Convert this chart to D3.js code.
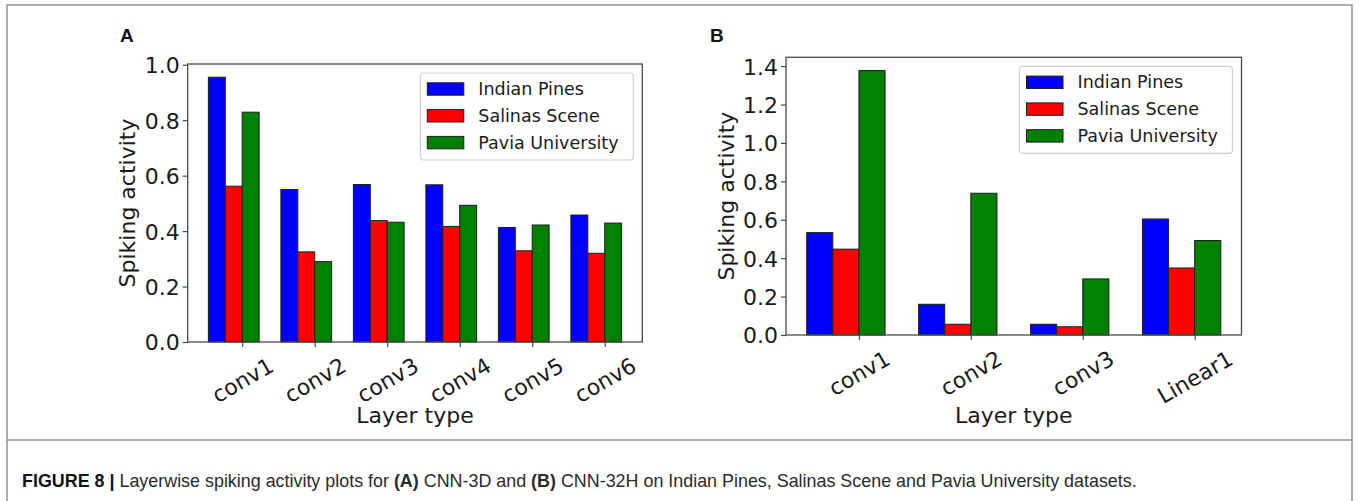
<!DOCTYPE html>
<html>
<head>
<meta charset="utf-8">
<script src="https://cdn.jsdelivr.net/npm/d3@7/dist/d3.min.js"></script>
<style>
  html, body { margin: 0; padding: 0; background: #fff; }
  svg { display: block; }
  .tick text { fill: #1a1a1a; }
</style>
</head>
<body>
<svg id="fig" width="1359" height="501"></svg>
<script>
// Series shared by both panels
const seriesNames = ["Indian Pines", "Salinas Scene", "Pavia University"];
const seriesColors = ["#0000ff", "#ff0000", "#008000"];

// Panel A: CNN-3D
const layersA = ["conv1", "conv2", "conv3", "conv4", "conv5", "conv6"];
const indianPinesA = [0.955, 0.550, 0.568, 0.567, 0.413, 0.458];
const salinasA     = [0.562, 0.325, 0.438, 0.417, 0.329, 0.320];
const paviaA       = [0.829, 0.290, 0.432, 0.493, 0.422, 0.429];
const yTicksA = [0.0, 0.2, 0.4, 0.6, 0.8, 1.0];

// Panel B: CNN-32H
const layersB = ["conv1", "conv2", "conv3", "Linear1"];
const indianPinesB = [0.533, 0.160, 0.056, 0.604];
const salinasB     = [0.447, 0.056, 0.043, 0.349];
const paviaB       = [1.377, 0.738, 0.292, 0.492];
const yTicksB = [0.0, 0.2, 0.4, 0.6, 0.8, 1.0, 1.2, 1.4];

const xLabel = "Layer type";
const yLabel = "Spiking activity";

const svg = d3.select("#fig");
const FONT = "'DejaVu Sans', sans-serif";
const TEXT = "#1a1a1a";

// Figure frame and caption panel
svg.append("rect").attr("x", 7).attr("y", 5).attr("width", 1345).attr("height", 435)
  .attr("fill", "none").attr("stroke", "#8a8a8a").attr("stroke-width", 1.4);
svg.append("line").attr("x1", 7).attr("x2", 7).attr("y1", 440).attr("y2", 501)
  .attr("stroke", "#8a8a8a").attr("stroke-width", 1.4);
svg.append("line").attr("x1", 1352).attr("x2", 1352).attr("y1", 440).attr("y2", 501)
  .attr("stroke", "#8a8a8a").attr("stroke-width", 1.4);

function drawPanel(opt) {
  const { left, right, top, bottom, layers, values, yTicks, letter, letterX } = opt;
  const n = layers.length;
  const w = 0.7 / 3;                       // bar width in category units
  const span = (n - 1) + 3 * w;
  const pad = 0.05 * span;
  const x = d3.scaleLinear().domain([-pad, span + pad]).range([left, right]);
  const yMax = d3.max(values.flat()) * 1.05;
  const y = d3.scaleLinear().domain([0, yMax]).range([bottom, top]);

  const g = svg.append("g");

  // bars
  values.forEach((series, k) => {
    g.append("g").selectAll("rect").data(series).join("rect")
      .attr("x", (d, i) => x(i + k * w))
      .attr("width", (d, i) => x(i + (k + 1) * w) - x(i + k * w))
      .attr("y", d => y(d))
      .attr("height", d => y(0) - y(d))
      .attr("fill", seriesColors[k])
      .attr("stroke", "#1e1e1e").attr("stroke-width", 1);
  });

  // frame
  g.append("rect").attr("x", left).attr("y", top)
    .attr("width", right - left).attr("height", bottom - top)
    .attr("fill", "none").attr("stroke", "#4a4a4a").attr("stroke-width", 1.3);

  // y axis
  const yAxis = g.append("g").attr("transform", `translate(${left},0)`)
    .call(d3.axisLeft(y).tickValues(yTicks).tickFormat(d3.format(".1f")).tickSize(5).tickPadding(3));
  yAxis.select(".domain").remove();
  yAxis.selectAll(".tick line").attr("stroke", "#4a4a4a").attr("stroke-width", 1.2);
  yAxis.selectAll(".tick text").attr("font-family", FONT).attr("font-size", 22)
    .attr("dy", "0.36em");

  // x axis with rotated labels
  const tickPos = layers.map((d, i) => i + 2 * w);
  const xAxis = g.append("g").attr("transform", `translate(0,${bottom})`)
    .call(d3.axisBottom(x).tickValues(tickPos).tickFormat((d, i) => layers[i]).tickSize(5));
  xAxis.select(".domain").remove();
  xAxis.selectAll(".tick line").attr("stroke", "#4a4a4a").attr("stroke-width", 1.2);
  const fs = 22;
  xAxis.selectAll(".tick text")
    .attr("font-family", FONT).attr("font-size", fs)
    .attr("text-anchor", "middle").attr("dominant-baseline", "central")
    .attr("dy", null).attr("y", 0)
    .each(function () {
      const L = this.getComputedTextLength();
      const off = 10.5 + (L * 0.5 + fs * 1.17 * 0.866) / 2;
      d3.select(this).attr("transform", `translate(0,${off}) rotate(-30)`);
    });

  // axis titles
  g.append("text").attr("x", (left + right) / 2).attr("y", 423)
    .attr("text-anchor", "middle").attr("font-family", FONT).attr("font-size", 22)
    .attr("fill", TEXT).text(xLabel);
  g.append("text")
    .attr("transform", `translate(${left - 60},${(top + bottom) / 2}) rotate(-90)`)
    .attr("text-anchor", "middle").attr("dominant-baseline", "central")
    .attr("font-family", FONT).attr("font-size", 22).attr("fill", TEXT).text(yLabel);

  // legend in the upper right corner
  const lw = 213, lh = 87;
  const lx = right - 9 - lw, ly = top + 9;
  const leg = g.append("g").attr("transform", `translate(${lx},${ly})`);
  leg.append("rect").attr("width", lw).attr("height", lh).attr("rx", 3)
    .attr("fill", "#fff").attr("fill-opacity", 0.85)
    .attr("stroke", "#d0d0d0").attr("stroke-width", 1.2);
  seriesNames.forEach((name, k) => {
    const cy = 16 + k * 26.8;
    leg.append("rect").attr("x", 7).attr("y", cy - 6.2).attr("width", 36.5).attr("height", 12.4)
      .attr("fill", seriesColors[k]).attr("stroke", "#1e1e1e").attr("stroke-width", 1);
    leg.append("text").attr("x", 58).attr("y", cy).attr("dominant-baseline", "central")
      .attr("font-family", FONT).attr("font-size", 17.5).attr("fill", TEXT).text(name);
  });

  // panel letter
  svg.append("text").attr("x", letterX).attr("y", 42)
    .attr("font-family", "'Liberation Sans', Arial, sans-serif").attr("font-weight", "bold")
    .attr("font-size", 19).attr("fill", "#111").text(letter);
}

drawPanel({
  left: 187.7, right: 642.3, top: 64, bottom: 342,
  layers: layersA, values: [indianPinesA, salinasA, paviaA],
  yTicks: yTicksA, letter: "A", letterX: 120
});
drawPanel({
  left: 786, right: 1241.5, top: 57.3, bottom: 335,
  layers: layersB, values: [indianPinesB, salinasB, paviaB],
  yTicks: yTicksB, letter: "B", letterX: 710
});

// Caption
const cap = svg.append("text").attr("x", 22).attr("y", 487)
  .attr("font-family", "'Liberation Sans', Arial, sans-serif").attr("font-size", 17.9)
  .attr("fill", "#2a2a2a");
cap.append("tspan").attr("font-weight", "bold").attr("fill", "#111").text("FIGURE 8 | ");
cap.append("tspan").text("Layerwise spiking activity plots for ");
cap.append("tspan").attr("font-weight", "bold").text("(A)");
cap.append("tspan").text(" CNN-3D and ");
cap.append("tspan").attr("font-weight", "bold").text("(B)");
cap.append("tspan").text(" CNN-32H on Indian Pines, Salinas Scene and Pavia University datasets.");
</script>
</body>
</html>
